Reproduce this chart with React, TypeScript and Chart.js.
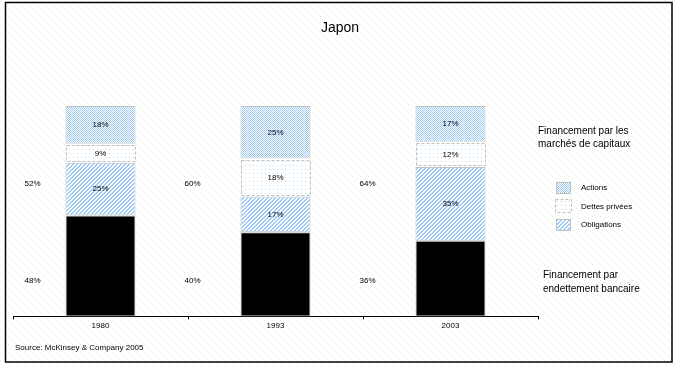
import React, { useEffect, useRef } from 'react';
import { Chart, registerables } from 'chart.js';

Chart.register(...registerables);

const chartTitle = 'Japon';
const categories = ['1980', '1993', '2003'];
const bankFinancing = [48, 40, 36];
const obligations = [25, 17, 35];
const privateDebt = [9, 18, 12];
const equities = [18, 25, 17];
const seriesLabels = ['Endettement bancaire', 'Obligations', 'Dettes privées', 'Actions'];
const marketsHeader = ['Financement par les', 'marchés de capitaux'];
const bankHeader = ['Financement par', 'endettement bancaire'];
const sourceText = 'Source: McKinsey & Company 2005';

const FONT = '"Liberation Sans", Arial, Helvetica, sans-serif';
const GREY = '#c0c0c0';
const BLUE = '#9ecbf5';

function tile(w: number, h: number, draw: (c: CanvasRenderingContext2D) => void) {
  const c = document.createElement('canvas');
  c.width = w;
  c.height = h;
  const g = c.getContext('2d') as CanvasRenderingContext2D;
  g.fillStyle = '#ffffff';
  g.fillRect(0, 0, w, h);
  draw(g);
  return c;
}

export default function App() {
  const canvasRef = useRef<HTMLCanvasElement | null>(null);

  useEffect(() => {
    const canvas = canvasRef.current;
    if (!canvas) return;
    const ctx0 = canvas.getContext('2d') as CanvasRenderingContext2D;

    const bgTile = tile(8, 8, (g) => {
      const dots: [number, number, string][] = [
        [0, 0, '#dcecdc'], [4, 2, '#e4f0dc'], [2, 5, '#e0ecf0'], [6, 6, '#eef2d8'],
      ];
      dots.forEach(([x, y, c]) => { g.fillStyle = c; g.fillRect(x, y, 1, 1); });
    });
    const actionsTile = tile(2, 2, (g) => {
      g.fillStyle = BLUE;
      g.fillRect(0, 0, 1, 1);
      g.fillRect(1, 1, 1, 1);
    });
    const obligTile = tile(4, 4, (g) => {
      g.fillStyle = BLUE;
      for (let x = 0; x < 4; x++) for (let y = 0; y < 4; y++) {
        if ((x + y) % 4 === 0 || (x + y) % 4 === 1) g.fillRect(x, y, 1, 1);
      }
    });
    const dettesTile = tile(4, 4, (g) => {
      g.fillStyle = '#bcdaf6';
      g.fillRect(1, 1, 1, 1);
    });

    const bgPattern = ctx0.createPattern(bgTile, 'repeat') as CanvasPattern;
    const actionsPattern = ctx0.createPattern(actionsTile, 'repeat') as CanvasPattern;
    const obligPattern = ctx0.createPattern(obligTile, 'repeat') as CanvasPattern;
    const dettesPattern = ctx0.createPattern(dettesTile, 'repeat') as CanvasPattern;

    const custom = {
      id: 'custom',
      beforeDraw(chart: any) {
        const { ctx, width, height } = chart;
        ctx.save();
        ctx.fillStyle = '#ffffff';
        ctx.fillRect(0, 0, width, height);
        ctx.fillStyle = bgPattern;
        ctx.fillRect(0, 0, width, height);
        ctx.restore();
      },
      afterDatasetsDraw(chart: any) {
        const { ctx } = chart;
        const yScale = chart.scales.y;
        ctx.save();
        // dashed borders for private debt
        const dMeta = chart.getDatasetMeta(2);
        ctx.strokeStyle = GREY;
        ctx.lineWidth = 1;
        ctx.setLineDash([3, 2]);
        dMeta.data.forEach((el: any) => {
          const left = Math.round(el.x - el.width / 2) + 0.5;
          const w = Math.round(el.width) - 1;
          const top = Math.round(Math.min(el.y, el.base)) + 1.5;
          const h = Math.round(Math.abs(el.base - el.y)) - 3;
          ctx.strokeRect(left, top, w, h);
        });
        ctx.setLineDash([]);
        // segment labels
        ctx.fillStyle = '#000';
        ctx.font = `8px ${FONT}`;
        ctx.textAlign = 'center';
        ctx.textBaseline = 'middle';
        [1, 2, 3].forEach((di) => {
          const meta = chart.getDatasetMeta(di);
          const vals = chart.data.datasets[di].data as number[];
          meta.data.forEach((el: any, i: number) => {
            ctx.fillText(`${vals[i]}%`, el.x, (el.y + el.base) / 2);
          });
        });
        // totals on the left of each bar
        const bMeta = chart.getDatasetMeta(0);
        bMeta.data.forEach((el: any, i: number) => {
          const barLeft = el.x - el.width / 2;
          const x = barLeft - (i === 0 ? 33 : 48);
          const market = obligations[i] + privateDebt[i] + equities[i];
          ctx.fillText(`${market}%`, x, yScale.getPixelForValue(63));
          ctx.fillText(`${bankFinancing[i]}%`, x, yScale.getPixelForValue(17));
        });
        ctx.restore();
      },
      afterDraw(chart: any) {
        const { ctx, chartArea, width } = chart;
        const r = chartArea.right;
        ctx.save();
        // title centred on the whole picture
        ctx.fillStyle = '#000';
        ctx.textAlign = 'center';
        ctx.textBaseline = 'middle';
        ctx.font = `14px ${FONT}`;
        ctx.fillText(chartTitle, width / 2 + 2, 28);

        ctx.textAlign = 'left';
        ctx.font = `10px ${FONT}`;
        ctx.fillText(marketsHeader[0], r, 131);
        ctx.fillText(marketsHeader[1], r, 144);
        ctx.fillText(bankHeader[0], r + 5, 275);
        ctx.fillText(bankHeader[1], r + 5, 289);
        // legend items
        const items = [
          { ds: 3, y: 187, fill: actionsPattern, dashed: false },
          { ds: 2, y: 206, fill: dettesPattern, dashed: true },
          { ds: 1, y: 224, fill: obligPattern, dashed: false },
        ];
        ctx.font = `8px ${FONT}`;
        items.forEach((it) => {
          const bx = r + 18;
          const by = it.y - 5;
          ctx.fillStyle = it.fill;
          ctx.fillRect(bx, by, 14, 11);
          ctx.strokeStyle = GREY;
          ctx.lineWidth = 1;
          if (it.dashed) {
            ctx.setLineDash([3, 2]);
            ctx.strokeRect(bx - 0.5, by - 1.5, 16, 13);
            ctx.setLineDash([]);
          } else {
            ctx.strokeRect(bx + 0.5, by + 0.5, 14, 11);
          }
          ctx.fillStyle = '#000';
          ctx.fillText(chart.data.datasets[it.ds].label, r + 43, it.y + 1);
        });
        // source
        ctx.font = `8px ${FONT}`;
        ctx.fillText(sourceText, 15, 348);
        // frame
        ctx.strokeStyle = '#000';
        ctx.lineWidth = 1.5;
        ctx.strokeRect(5.5, 2.5, 666.5, 359.5);
        ctx.restore();
      },
    };

    const chart = new Chart(canvas, {
      type: 'bar',
      data: {
        labels: categories,
        datasets: [
          { label: seriesLabels[0], data: bankFinancing, backgroundColor: '#000000', borderColor: GREY, borderWidth: 1, borderSkipped: false },
          { label: seriesLabels[1], data: obligations, backgroundColor: obligPattern, borderColor: GREY, borderWidth: 1, borderSkipped: false },
          { label: seriesLabels[2], data: privateDebt, backgroundColor: dettesPattern, borderColor: GREY, borderWidth: 0 },
          { label: seriesLabels[3], data: equities, backgroundColor: actionsPattern, borderColor: GREY, borderWidth: 1, borderSkipped: false },
        ] as any,
      },
      options: {
        animation: false,
        responsive: false,
        maintainAspectRatio: false,
        datasets: { bar: { barPercentage: 0.4, categoryPercentage: 1.0 } },
        layout: { padding: { left: 13, right: 138, top: 106, bottom: 33 } },
        plugins: {
          legend: { display: false },
          tooltip: { enabled: false },
          title: { display: false },
        },
        scales: {
          x: {
            stacked: true,
            offset: true,
            grid: { display: true, drawOnChartArea: false, drawTicks: true, tickLength: 3, color: '#000', offset: true },
            border: { display: true, color: '#000', width: 1 },
            ticks: { color: '#000', font: { family: FONT, size: 8 }, padding: 2 },
          },
          y: {
            stacked: true,
            display: false,
            min: 0,
            max: 100,
          },
        },
      } as any,
      plugins: [custom],
    });

    return () => chart.destroy();
  }, []);

  return (
    <div style={{ position: 'fixed', left: 0, top: 0, width: 676, height: 366 }}>
      <canvas ref={canvasRef} width={676} height={366} style={{ width: 676, height: 366, display: 'block' }} />
    </div>
  );
}
